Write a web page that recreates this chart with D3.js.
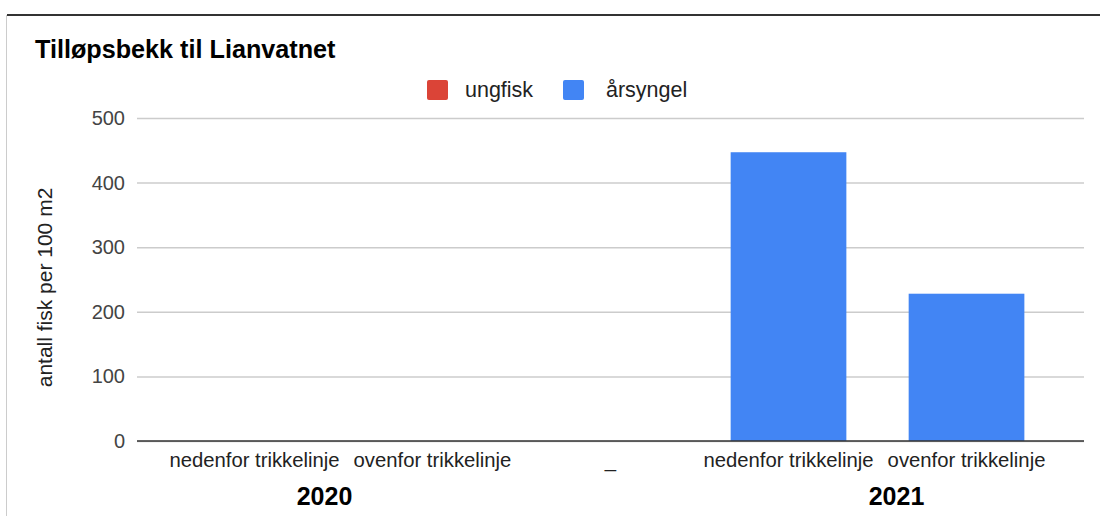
<!DOCTYPE html>
<html>
<head>
<meta charset="utf-8">
<script src="https://cdn.jsdelivr.net/npm/d3@7"></script>
<style>
  html, body { margin: 0; padding: 0; background: #fff; }
  svg { display: block; font-family: "Liberation Sans", Arial, sans-serif; }
</style>
</head>
<body>
<svg id="chart" width="1100" height="516"></svg>
<script>
const title = "Tilløpsbekk til Lianvatnet";
const yAxisTitle = "antall fisk per 100 m2";
const categories = ["nedenfor trikkelinje", "ovenfor trikkelinje", "_", "nedenfor trikkelinje ", "ovenfor trikkelinje "];
const categoryLabels = ["nedenfor trikkelinje", "ovenfor trikkelinje", "_", "nedenfor trikkelinje", "ovenfor trikkelinje"];
const groups = ["2020", "2021"];
const groupMembers = [[0, 1], [3, 4]];
const seriesNames = ["ungfisk", "årsyngel"];
const seriesColors = ["#db4437", "#4285f4"];
const ungfisk = [0, 0, 0, 0, 0];
const arsyngel = [0, 0, 0, 447, 228];
const yTicks = [0, 100, 200, 300, 400, 500];

const svg = d3.select("#chart");
const plot = { left: 137, right: 1084, top: 118, bottom: 441 };

// frame
svg.append("line").attr("x1", 7).attr("x2", 1100).attr("y1", 15).attr("y2", 15)
  .attr("stroke", "#333").attr("stroke-width", 2);
svg.append("line").attr("x1", 6.5).attr("x2", 6.5).attr("y1", 15).attr("y2", 516)
  .attr("stroke", "#ccc").attr("stroke-width", 1);

const y = d3.scaleLinear().domain([0, 500]).range([plot.bottom, plot.top]);
const x = d3.scaleBand().domain(categories).range([plot.left, plot.right])
  .paddingInner(0.35).paddingOuter(0.335);

// gridlines + tick labels
const yAxis = d3.axisLeft(y).tickValues(yTicks).tickSize(-(plot.right - plot.left)).tickPadding(12);
const gy = svg.append("g").attr("transform", `translate(${plot.left},0)`).call(yAxis);
gy.select(".domain").remove();
gy.selectAll(".tick line").attr("stroke", "#ccc").attr("stroke-width", 1.5);
gy.selectAll(".tick text").attr("fill", "#444").attr("font-size", 20)
  .attr("font-family", "'Liberation Sans', Arial, sans-serif");

// stacked bars
const rows = categories.map((c, i) => ({ cat: c, ungfisk: ungfisk[i], "årsyngel": arsyngel[i] }));
const stacked = d3.stack().keys(seriesNames)(rows);
svg.append("g").selectAll("g").data(stacked).join("g")
  .attr("fill", (d, i) => seriesColors[i])
  .selectAll("rect").data(d => d.filter(p => p[1] - p[0] > 0)).join("rect")
  .attr("x", d => x(d.data.cat))
  .attr("width", x.bandwidth())
  .attr("y", d => y(d[1]))
  .attr("height", d => y(d[0]) - y(d[1]));

// baseline
svg.append("line").attr("x1", plot.left).attr("x2", plot.right)
  .attr("y1", y(0)).attr("y2", y(0)).attr("stroke", "#333").attr("stroke-width", 1.5);

// category labels
const xAxis = d3.axisBottom(x).tickSize(0).tickPadding(0).tickFormat((d, i) => categoryLabels[i]);
const gx = svg.append("g").attr("transform", `translate(0,${y(0)})`).call(xAxis);
gx.select(".domain").remove();
gx.selectAll(".tick text").attr("dy", null).attr("y", 26).attr("fill", "#222").attr("font-size", 20.3)
  .attr("font-family", "'Liberation Sans', Arial, sans-serif");

// group labels
const outward = [-19, 19];
svg.append("g").selectAll("text").data(groups).join("text")
  .attr("x", (g, i) => {
    const m = groupMembers[i];
    const a = x(categories[m[0]]);
    const b = x(categories[m[m.length - 1]]) + x.bandwidth();
    return (a + b) / 2 + outward[i];
  })
  .attr("y", 505).attr("text-anchor", "middle").attr("font-weight", "bold")
  .attr("font-size", 25).attr("fill", "#000").text(d => d);

// title
svg.append("text").attr("x", 35).attr("y", 58).attr("font-weight", "bold")
  .attr("font-size", 25.2).attr("fill", "#000").text(title);

// y axis title
svg.append("text").attr("transform", `translate(52,${(plot.top + plot.bottom) / 2 + 8}) rotate(-90)`)
  .attr("text-anchor", "middle").attr("font-size", 21).attr("fill", "#222").text(yAxisTitle);

// legend
const legendX = [427, 563];
const lg = svg.append("g").selectAll("g").data(seriesNames).join("g")
  .attr("transform", (d, i) => `translate(${legendX[i]},80)`);
lg.append("rect").attr("width", 21).attr("height", 20).attr("rx", 2)
  .attr("fill", (d, i) => seriesColors[i]);
lg.append("text").attr("x", (d, i) => i === 0 ? 38 : 43).attr("y", 17)
  .attr("font-size", 21.5).attr("fill", "#222").text(d => d);
</script>
</body>
</html>
